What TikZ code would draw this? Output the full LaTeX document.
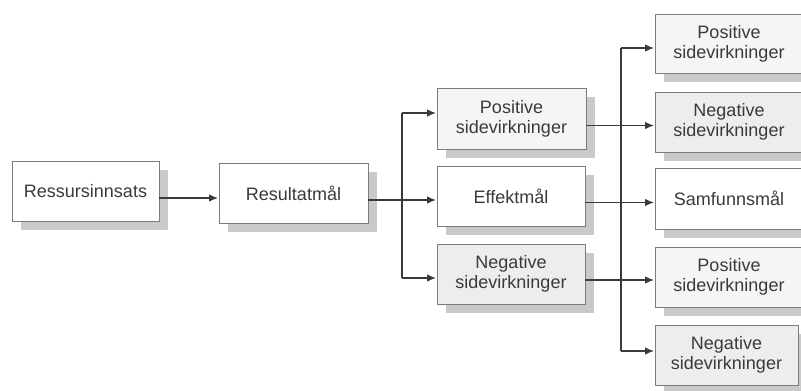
\documentclass[tikz,border=0pt]{standalone}
\usepackage{fontspec}
\setmainfont{Liberation Sans}
\usetikzlibrary{arrows.meta}
\definecolor{linecol}{HTML}{3A3A3A}
\definecolor{boxline}{HTML}{7C7C7C}
\definecolor{shadowgray}{HTML}{C9C9C9}
\definecolor{txt}{HTML}{3A3A3A}
\definecolor{lightfill}{HTML}{F5F5F5}
\definecolor{greyfill}{HTML}{EDEDED}
% a labelled box with its drop shadow: name, x, y, width, height, fill, text
\newcommand\shadedbox[7]{%
  \fill[shadowgray] ({#2-#4/2+9},{#3-#5/2+8.5}) rectangle ({#2+#4/2+9},{#3+#5/2+8.5});
  \node[box=#6, minimum width=#4pt, minimum height=#5pt] (#1) at (#2,#3) {#7};}
\begin{document}
\begin{tikzpicture}[x=1pt,y=-1pt,
  box/.style={draw=boxline, line width=0.9pt, fill=#1,
    inner sep=2pt, align=center, text=txt,
    font=\fontsize{18}{20}\selectfont},
  box/.default=white,
  conn/.style={draw=linecol, line width=1.4pt},
  arr/.style={conn, -{Latex[length=9pt,width=7.5pt]}, shorten >=0.5pt}]
\clip (0,0) rectangle (801,391);
\fill[white] (0,0) rectangle (801,391);

% first chain
\shadedbox{b1}{85.5}{191}{147}{60}{white}{Ressursinnsats}
\shadedbox{b2}{293.5}{193}{149}{60}{white}{Resultatmål}

% middle column
\shadedbox{m1}{511.5}{118.5}{149}{61}{lightfill}{Positive\\sidevirkninger}
\shadedbox{m2}{511}{196}{148}{60}{white}{Effektmål}
\shadedbox{m3}{511}{274}{148}{60}{greyfill}{Negative\\sidevirkninger}

% right column
\shadedbox{r1}{729}{43.5}{148}{59}{lightfill}{Positive\\sidevirkninger}
\shadedbox{r2}{729}{122}{148}{60}{greyfill}{Negative\\sidevirkninger}
\shadedbox{r3}{729}{198.5}{148}{61}{white}{Samfunnsmål}
\shadedbox{r4}{729}{277}{148}{60}{lightfill}{Positive\\sidevirkninger}
\shadedbox{r5}{726.5}{355}{143}{60}{greyfill}{Negative\\sidevirkninger}

% levels of the horizontal connectors
\coordinate (h0) at (0,198);
\coordinate (h1) at (0,200);
\coordinate (h2) at (0,125.5);
\coordinate (h3) at (0,202.5);
\coordinate (h4) at (0,280);

% branch points
\coordinate (j1) at (402,113);
\coordinate (j2) at (402,278);
\coordinate (k1) at (621,48);
\coordinate (k2) at (621,351);

\draw[arr] (b1.east |- h0) -- (b2.west |- h0);
\draw[arr] (b2.east |- h1) -- (m2.west |- h1);
\draw[conn] (j1) -- (j2);
\draw[arr] (j1) -- (m1.west |- j1);
\draw[arr] (j2) -- (m3.west |- j2);

\draw[arr] (m1.east |- h2) -- (r2.west |- h2);
\draw[arr] (m2.east |- h3) -- (r3.west |- h3);
\draw[arr] (m3.east |- h4) -- (r4.west |- h4);
\draw[conn] (k1) -- (k2);
\draw[arr] (k1) -- (r1.west |- k1);
\draw[arr] (k2) -- (r5.west |- k2);
\end{tikzpicture}
\end{document}
